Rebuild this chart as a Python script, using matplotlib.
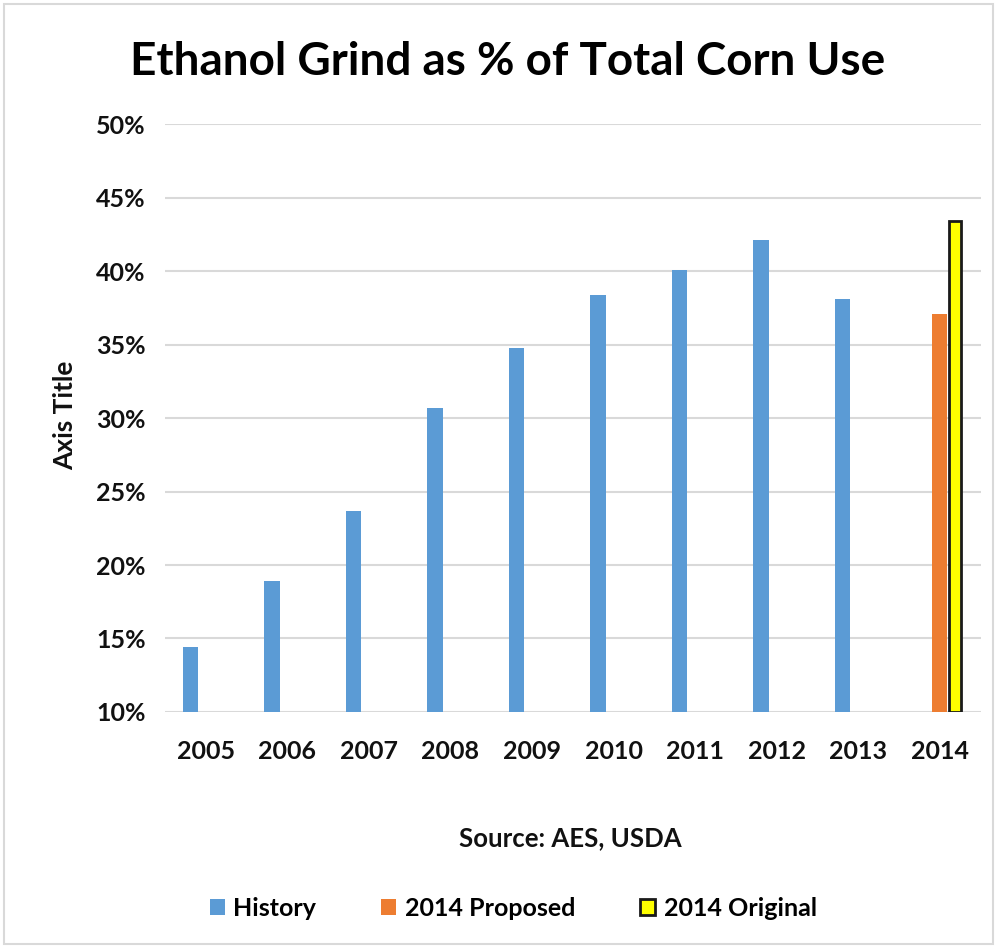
import numpy as np
import matplotlib.pyplot as plt
from matplotlib.patches import Rectangle

plt.rcParams['font.family'] = ['Lato', 'DejaVu Sans']
plt.rcParams['font.weight'] = 'bold'

years = ['2005', '2006', '2007', '2008', '2009', '2010', '2011', '2012', '2013', '2014']
history = [14.4, 18.9, 23.7, 30.7, 34.8, 38.4, 40.1, 42.1, 38.1, np.nan]
proposed = [np.nan] * 9 + [37.1]
original = [np.nan] * 9 + [43.4]
yticks = [10, 15, 20, 25, 30, 35, 40, 45, 50]

fig = plt.figure(figsize=(9.97, 9.48), dpi=100)
ax = fig.add_axes([0.1655, 0.249, 0.818, 0.62])

x = np.arange(len(years))
w = 0.19
ax.bar(x - w, np.array(history) - 10, w, bottom=10, color='#5b9bd5', label='History')
ax.bar(x, np.array(proposed) - 10, w * 0.95, bottom=10, color='#ed7d31', label='2014 Proposed')
ax.bar(x + w, np.array(original) - 10, w * 0.8, bottom=10, color='#ffff00',
       edgecolor='#1a1a1a', linewidth=2, label='2014 Original')

ax.set_ylim(10, 50)
ax.set_xlim(-0.5, len(years) - 0.5)
ax.set_yticks(yticks)
ax.set_yticklabels([f'{t}%' for t in yticks])
ax.set_xticks(x)
ax.set_xticklabels(years)
ax.grid(axis='y', color='#d9d9d9', linewidth=1.5)
ax.set_axisbelow(True)
for s in ax.spines.values():
    s.set_visible(False)
ax.tick_params(length=0, labelsize=18, labelcolor='#111111')
ax.tick_params(axis='x', pad=20)
ax.tick_params(axis='y', pad=14)
for lab in ax.get_xticklabels() + ax.get_yticklabels():
    lab.set_fontweight('bold')

ax.set_ylabel('Axis Title', fontsize=19, fontweight='bold', color='#111111')
ax.yaxis.set_label_coords(-0.108, 0.505)

fig.text(0.509, 0.935, 'Ethanol Grind as % of Total Corn Use', ha='center', va='center',
         fontsize=33, fontweight='bold', color='black')
fig.text(0.572, 0.116, 'Source: AES, USDA', ha='center', va='center',
         fontsize=18.5, fontweight='bold', color='#111111')

ax.legend(loc='center', bbox_to_anchor=(0.515, 0.042), bbox_transform=fig.transFigure,
          ncol=3, frameon=False, fontsize=18, handlelength=0.6, handleheight=0.6,
          handletextpad=0.35, columnspacing=2.6)

fig.patches.append(Rectangle((0.004, 0.004), 0.992, 0.992, transform=fig.transFigure,
                             fill=False, edgecolor='#d9d9d9', linewidth=1.5))

fig.savefig('out.png', dpi=100)
